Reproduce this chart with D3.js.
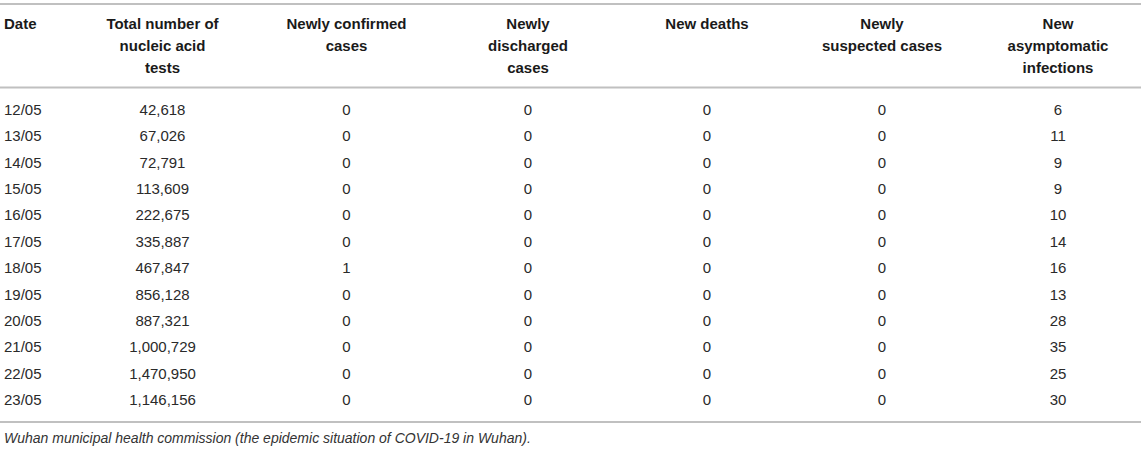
<!DOCTYPE html>
<html>
<head>
<meta charset="utf-8">
<script src="https://cdn.jsdelivr.net/npm/d3@7"></script>
<style>
  body { margin: 0; background: #fff; }
  text { font-family: "Liberation Sans", Arial, Helvetica, sans-serif; }
</style>
</head>
<body>
<div id="wrapper"></div>
<script>
// Table data
const dates = ["12/05", "13/05", "14/05", "15/05", "16/05", "17/05", "18/05", "19/05", "20/05", "21/05", "22/05", "23/05"];
const totalTests = [42618, 67026, 72791, 113609, 222675, 335887, 467847, 856128, 887321, 1000729, 1470950, 1146156];
const newConfirmed = [0, 0, 0, 0, 0, 0, 1, 0, 0, 0, 0, 0];
const newDischarged = [0, 0, 0, 0, 0, 0, 0, 0, 0, 0, 0, 0];
const newDeaths = [0, 0, 0, 0, 0, 0, 0, 0, 0, 0, 0, 0];
const newSuspected = [0, 0, 0, 0, 0, 0, 0, 0, 0, 0, 0, 0];
const newAsymptomatic = [6, 11, 9, 9, 10, 14, 16, 13, 28, 35, 25, 30];
const headers = [
  ["Date"],
  ["Total number of", "nucleic acid", "tests"],
  ["Newly confirmed", "cases"],
  ["Newly", "discharged", "cases"],
  ["New deaths"],
  ["Newly", "suspected cases"],
  ["New", "asymptomatic", "infections"],
];
const footnote = "Wuhan municipal health commission (the epidemic situation of COVID-19 in Wuhan).";

function drawTable() {
  const dimensions = { width: 1145, height: 451 };

  const wrapper = d3
    .select("#wrapper")
    .append("svg")
    .attr("width", dimensions.width)
    .attr("height", dimensions.height);

  // Scales (column centres follow the content widths of the original table)
  const xScale = d3
    .scaleOrdinal()
    .domain([0, 1, 2, 3, 4, 5, 6])
    .range([4, 162.5, 346.5, 528, 707, 882, 1058]);
  const colAnchor = (i) => (i === 0 ? "start" : "middle");
  const yScale = d3.scalePoint().domain(dates).range([115, 405]);
  const headerLine = d3.scaleLinear().domain([0, 1]).range([29, 51]);

  const fmt = d3.format(",");
  const columns = [dates, totalTests.map(fmt), newConfirmed, newDischarged, newDeaths, newSuspected, newAsymptomatic];

  // Rules
  const rules = [4, 87.5, 422];
  wrapper
    .selectAll(".rule")
    .data(rules)
    .join("line")
    .attr("class", "rule")
    .attr("x1", 0)
    .attr("x2", 1141)
    .attr("y1", (d) => d)
    .attr("y2", (d) => d)
    .attr("stroke", "#c0c0c0")
    .attr("stroke-width", 1.8);

  // Header
  const headerG = wrapper
    .selectAll(".header")
    .data(headers)
    .join("text")
    .attr("class", "header")
    .attr("x", (d, i) => xScale(i))
    .attr("text-anchor", (d, i) => colAnchor(i))
    .style("font-size", "15px")
    .style("font-weight", "bold")
    .attr("fill", "#1a1a1a");

  headerG
    .selectAll("tspan")
    .data((d, i) => d.map((t) => ({ t, i })))
    .join("tspan")
    .attr("x", (d) => xScale(d.i))
    .attr("y", (d, j) => headerLine(j))
    .text((d) => d.t);

  // Body cells
  const cells = [];
  columns.forEach((col, i) => {
    col.forEach((v, r) => cells.push({ i, date: dates[r], v }));
  });

  wrapper
    .selectAll(".cell")
    .data(cells)
    .join("text")
    .attr("class", "cell")
    .attr("x", (d) => xScale(d.i))
    .attr("y", (d) => yScale(d.date))
    .attr("text-anchor", (d) => colAnchor(d.i))
    .style("font-size", "15px")
    .attr("fill", "#2a2a2a")
    .text((d) => d.v);

  // Footnote
  wrapper
    .append("text")
    .attr("x", 4)
    .attr("y", 443)
    .style("font-size", "14px")
    .style("font-style", "italic")
    .attr("fill", "#333")
    .text(footnote);
}

drawTable();
</script>
</body>
</html>
